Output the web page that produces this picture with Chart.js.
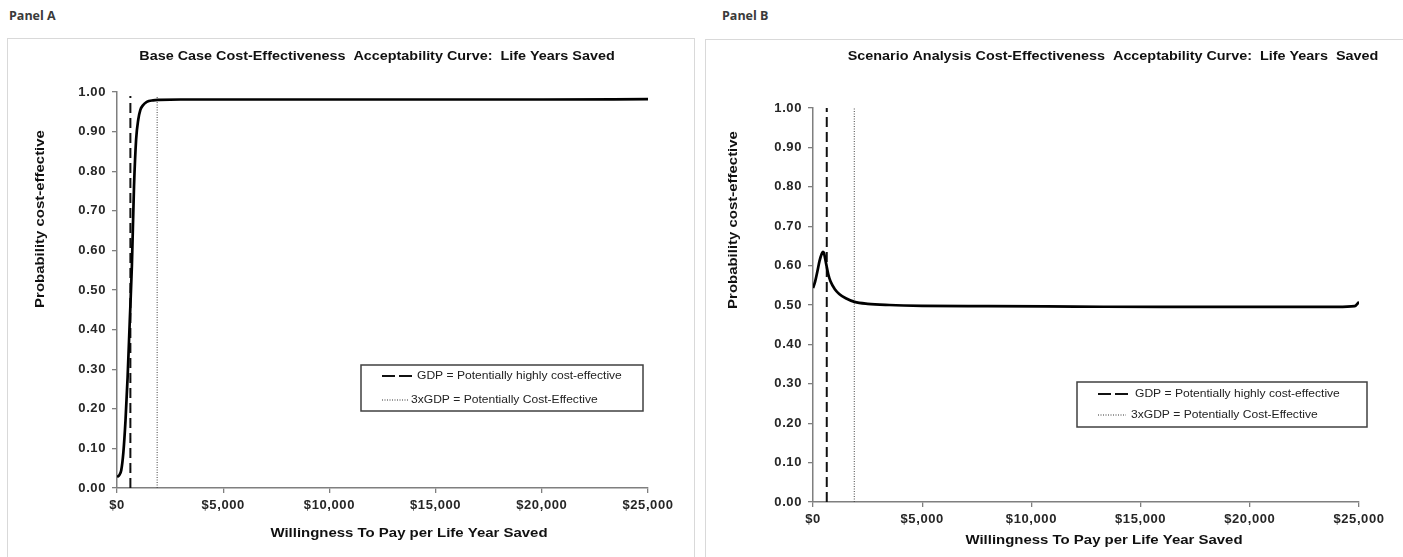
<!DOCTYPE html>
<html>
<head>
<meta charset="utf-8">
<script src="https://cdn.jsdelivr.net/npm/chart.js@4.4.1/dist/chart.umd.min.js"></script>
<style>
  html, body { margin: 0; padding: 0; background: #fff; width: 1403px; height: 557px; overflow: hidden; }
  .panel-label { position: absolute; top: 7px; font: bold 12.5px "Open Sans", "Noto Sans", sans-serif; color: #3a3a3a; }
  .frame { position: absolute; border: 1px solid #d9d9d9; background: #fff; }
  canvas { display: block; }
</style>
</head>
<body>
<div class="panel-label" style="left:9px">Panel A</div>
<div class="panel-label" style="left:722px">Panel B</div>
<div class="frame" style="left:7px;top:38px;width:686px;height:530px"><div style="position:relative;width:686px;height:518px"><canvas id="chartA"></canvas></div></div>
<div class="frame" style="left:705px;top:39px;width:700px;height:530px"><div style="position:relative;width:697px;height:517px"><canvas id="chartB"></canvas></div></div>

<script>
// Willingness-to-pay thresholds (US$ per life year saved)
const gdpThreshold = 630;
const gdp3Threshold = 1890;

// Panel A: base case acceptability curve
const wtpA  = [0, 100, 200, 300, 400, 500, 600, 700, 800, 900, 1000, 1100, 1200, 1400, 1700, 2000, 3000, 5000, 10000, 15000, 20000, 25000];
const probA = [0.028, 0.032, 0.045, 0.09, 0.17, 0.28, 0.42, 0.56, 0.76, 0.88, 0.93, 0.955, 0.965, 0.975, 0.979, 0.98, 0.981, 0.981, 0.981, 0.981, 0.981, 0.982];
const gdpLineTopA = 0.99;

// Panel B: scenario analysis acceptability curve
const wtpB  = [0, 100, 200, 300, 400, 450, 500, 600, 700, 800, 1000, 1200, 1500, 1900, 2500, 3500, 5000, 8000, 12000, 16000, 20000, 24000, 24800, 25000];
const probB = [0.543, 0.56, 0.585, 0.612, 0.63, 0.635, 0.632, 0.605, 0.578, 0.56, 0.54, 0.528, 0.517, 0.508, 0.503, 0.5, 0.498, 0.497, 0.496, 0.495, 0.495, 0.495, 0.497, 0.508];
const gdpLineTopB = 1.0;

// Axis settings and texts
const xTickStep = 5000, xMax = 25000;
const yTickStep = 0.1, yMax = 1;
const titleA = 'Base Case Cost-Effectiveness  Acceptability Curve:  Life Years Saved';
const titleB = 'Scenario Analysis Cost-Effectiveness  Acceptability Curve:  Life Years  Saved';
const xTitle = 'Willingness To Pay per Life Year Saved';
const yTitle = 'Probability cost-effective';
const legendLabels = ['GDP = Potentially highly cost-effective', '3xGDP = Potentially Cost-Effective'];

const FONT = '"Liberation Sans", Arial, sans-serif';
const AXIS_GREY = '#7f7f7f';
const TEXT_STRETCH = 1.15;   // slightly widened lettering used throughout the figure

// Wide letter spacing for the tick labels drawn by the scales
const tickSpacing = {
  id: 'tickSpacing',
  beforeDraw(chart) { chart.ctx.letterSpacing = '0.6px'; },
  afterDraw(chart) { chart.ctx.letterSpacing = '0px'; }
};

function stretchedText(ctx, text, x, y, rot) {
  ctx.save();
  ctx.translate(x, y);
  if (rot) ctx.rotate(rot);
  ctx.scale(TEXT_STRETCH, 1);
  ctx.fillText(text, 0, 0);
  ctx.restore();
}

// Draws the chart title, axis titles and the boxed legend
const panelText = {
  id: 'panelText',
  afterDraw(chart, args, o) {
    const ctx = chart.ctx;
    ctx.save();
    ctx.letterSpacing = '0px';
    ctx.fillStyle = '#111';
    ctx.textBaseline = 'middle';
    ctx.textAlign = 'center';
    ctx.font = 'bold 12.5px ' + FONT;
    stretchedText(ctx, o.title, o.titlePos.x, o.titlePos.y);

    ctx.font = 'bold 13px ' + FONT;
    stretchedText(ctx, xTitle, o.xTitlePos.x, o.xTitlePos.y);
    stretchedText(ctx, yTitle, o.yTitlePos.x, o.yTitlePos.y, -Math.PI / 2);

    // legend
    const b = o.legendBox;
    ctx.fillStyle = '#fff';
    ctx.fillRect(b.x, b.y, b.w, b.h);
    ctx.strokeStyle = '#404040';
    ctx.lineWidth = 1.5;
    ctx.strokeRect(b.x, b.y, b.w, b.h);

    ctx.font = '10.5px ' + FONT;
    ctx.textAlign = 'left';
    const rows = [
      { dash: [13, 4], width: 2, color: '#111', y: b.y + o.rowOffsets[0], x0: b.x + o.sampleX[0], x1: b.x + o.sampleX[1], tx: b.x + o.textX[0] },
      { dash: [1, 1.5], width: 1, color: '#333', y: b.y + o.rowOffsets[1], x0: b.x + o.sampleX[0], x1: b.x + o.sampleX[2], tx: b.x + o.textX[1] }
    ];
    rows.forEach((r, i) => {
      ctx.beginPath();
      ctx.setLineDash(r.dash);
      ctx.lineWidth = r.width;
      ctx.strokeStyle = r.color;
      ctx.moveTo(r.x0, r.y);
      ctx.lineTo(r.x1, r.y);
      ctx.stroke();
      ctx.setLineDash([]);
      ctx.fillStyle = '#222';
      stretchedText(ctx, legendLabels[i], r.tx, r.y);
    });
    ctx.restore();
  }
};

function makeChart(id, wtp, prob, lineTop, padding, textOpts) {
  const pts = (xs, ys) => xs.map((x, i) => ({ x: x, y: ys[i] }));
  return new Chart(document.getElementById(id), {
    type: 'scatter',
    data: {
      datasets: [
        {
          data: pts(wtp, prob),
          showLine: true, borderColor: '#000', borderWidth: 2.7,
          pointRadius: 0, cubicInterpolationMode: 'monotone', order: 0
        },
        {
          data: pts([gdpThreshold, gdpThreshold], [0, lineTop]),
          showLine: true, borderColor: '#111', borderWidth: 2,
          borderDash: [10, 5], pointRadius: 0, order: 1
        },
        {
          data: pts([gdp3Threshold, gdp3Threshold], [0, lineTop]),
          showLine: true, borderColor: '#444', borderWidth: 1,
          borderDash: [1, 1.5], pointRadius: 0, order: 2
        }
      ]
    },
    options: {
      responsive: true,
      maintainAspectRatio: false,
      animation: false,
      devicePixelRatio: 1,
      layout: { padding: padding },
      plugins: { legend: { display: false }, tooltip: { enabled: false }, panelText: textOpts },
      scales: {
        x: {
          type: 'linear', min: 0, max: xMax,
          afterFit: s => { s.height = 30; },
          ticks: {
            stepSize: xTickStep, maxRotation: 0, padding: 5, color: '#262626',
            font: { family: FONT, size: 13, weight: 'bold' },
            callback: v => '$' + v.toLocaleString('en-US')
          },
          grid: { drawOnChartArea: false, tickLength: 5, color: AXIS_GREY, lineWidth: 1.3 },
          border: { color: AXIS_GREY, width: 1.5 }
        },
        y: {
          min: 0, max: yMax,
          afterFit: s => { s.width = 40; },
          ticks: {
            stepSize: yTickStep, padding: 6, color: '#262626',
            font: { family: FONT, size: 13, weight: 'bold' },
            callback: v => v.toFixed(2)
          },
          grid: { drawOnChartArea: false, tickLength: 5, color: AXIS_GREY, lineWidth: 1.3 },
          border: { color: AXIS_GREY, width: 1.5 }
        }
      }
    },
    plugins: [tickSpacing, panelText]
  });
}

makeChart('chartA', wtpA, probA, gdpLineTopA,
  { left: 69, right: 46, top: 53, bottom: 39 },
  {
    title: titleA, titlePos: { x: 369, y: 18 },
    xTitlePos: { x: 401, y: 494 }, yTitlePos: { x: 32, y: 180 },
    legendBox: { x: 353, y: 326, w: 282, h: 46 },
    rowOffsets: [11, 35], sampleX: [21, 51, 47], textX: [56, 50]
  });

makeChart('chartB', wtpB, probB, gdpLineTopB,
  { left: 67, right: 44, top: 68, bottom: 25 },
  {
    title: titleB, titlePos: { x: 407, y: 17 },
    xTitlePos: { x: 398, y: 500 }, yTitlePos: { x: 27, y: 180 },
    legendBox: { x: 371, y: 342, w: 290, h: 45 },
    rowOffsets: [12, 33], sampleX: [21, 53, 49], textX: [58, 54]
  });
</script>
</body>
</html>
